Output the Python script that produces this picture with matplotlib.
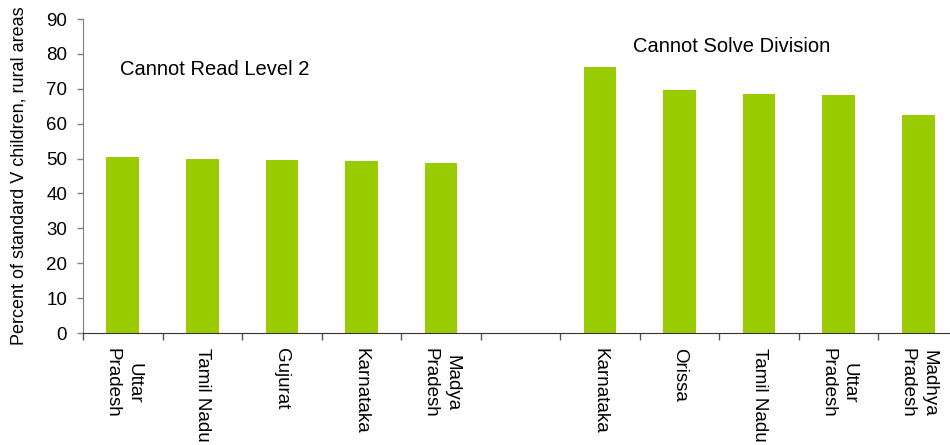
import matplotlib
matplotlib.use("Agg")
import matplotlib.pyplot as plt
import numpy as np

plt.rcParams['font.family'] = ['Liberation Sans', 'DejaVu Sans']

# Category labels (empty slot separates the two groups)
categories = ["Uttar\nPradesh", "Tamil Nadu", "Gujurat", "Karnataka", "Madya\nPradesh",
              "",
              "Karnataka", "Orissa", "Tamil Nadu", "Uttar\nPradesh", "Madhya\nPradesh"]
# Cannot Read Level 2 (first five states)
read_values = [50.4, 49.9, 49.6, 49.3, 48.7]
# Cannot Solve Division (last five states)
division_values = [76.2, 69.6, 68.5, 68.2, 62.5]
yticks = [0, 10, 20, 30, 40, 50, 60, 70, 80, 90]

values = read_values + [np.nan] + division_values
bar_color = "#99CC00"

W, H = 950, 445
fig = plt.figure(figsize=(W / 100, H / 100), dpi=100)
ax = fig.add_axes([83 / W, (H - 333) / H, (958 - 83) / W, (333 - 19) / H])

x = np.arange(len(categories))
ax.bar(x, values, width=0.41, color=bar_color, zorder=2)

ax.set_xlim(-0.5, len(categories) - 0.5)
ax.set_ylim(0, 90)
ax.set_yticks(yticks)
ax.tick_params(axis='y', direction='out', length=4.5, width=1, colors='#808080',
               labelcolor='black', labelsize=13.5, pad=7)

ax.set_xticks(x)
ax.set_xticklabels(categories, rotation=270, ha='center', va='top',
                   multialignment='center', fontsize=13.5, linespacing=1.35)
ax.set_xticks(np.arange(-0.5, len(categories) + 0.5, 1), minor=True)
ax.tick_params(axis='x', which='major', length=0, pad=11)
ax.tick_params(axis='x', which='minor', direction='out', length=5, width=1, colors='#555555')

for side in ['top', 'right']:
    ax.spines[side].set_visible(False)
ax.spines['left'].set_color('#808080')
ax.spines['bottom'].set_color('#333333')

ax.set_ylabel("Percent of standard V children, rural areas", fontsize=13)
ax.yaxis.set_label_coords(-55 / (958 - 83), 0.5)

ax.text(1.16, 75.4, "Cannot Read Level 2", fontsize=14.5, ha='center', va='center')
ax.text(7.66, 82.2, "Cannot Solve Division", fontsize=14.5, ha='center', va='center')

fig.savefig("out.png", dpi=100)
